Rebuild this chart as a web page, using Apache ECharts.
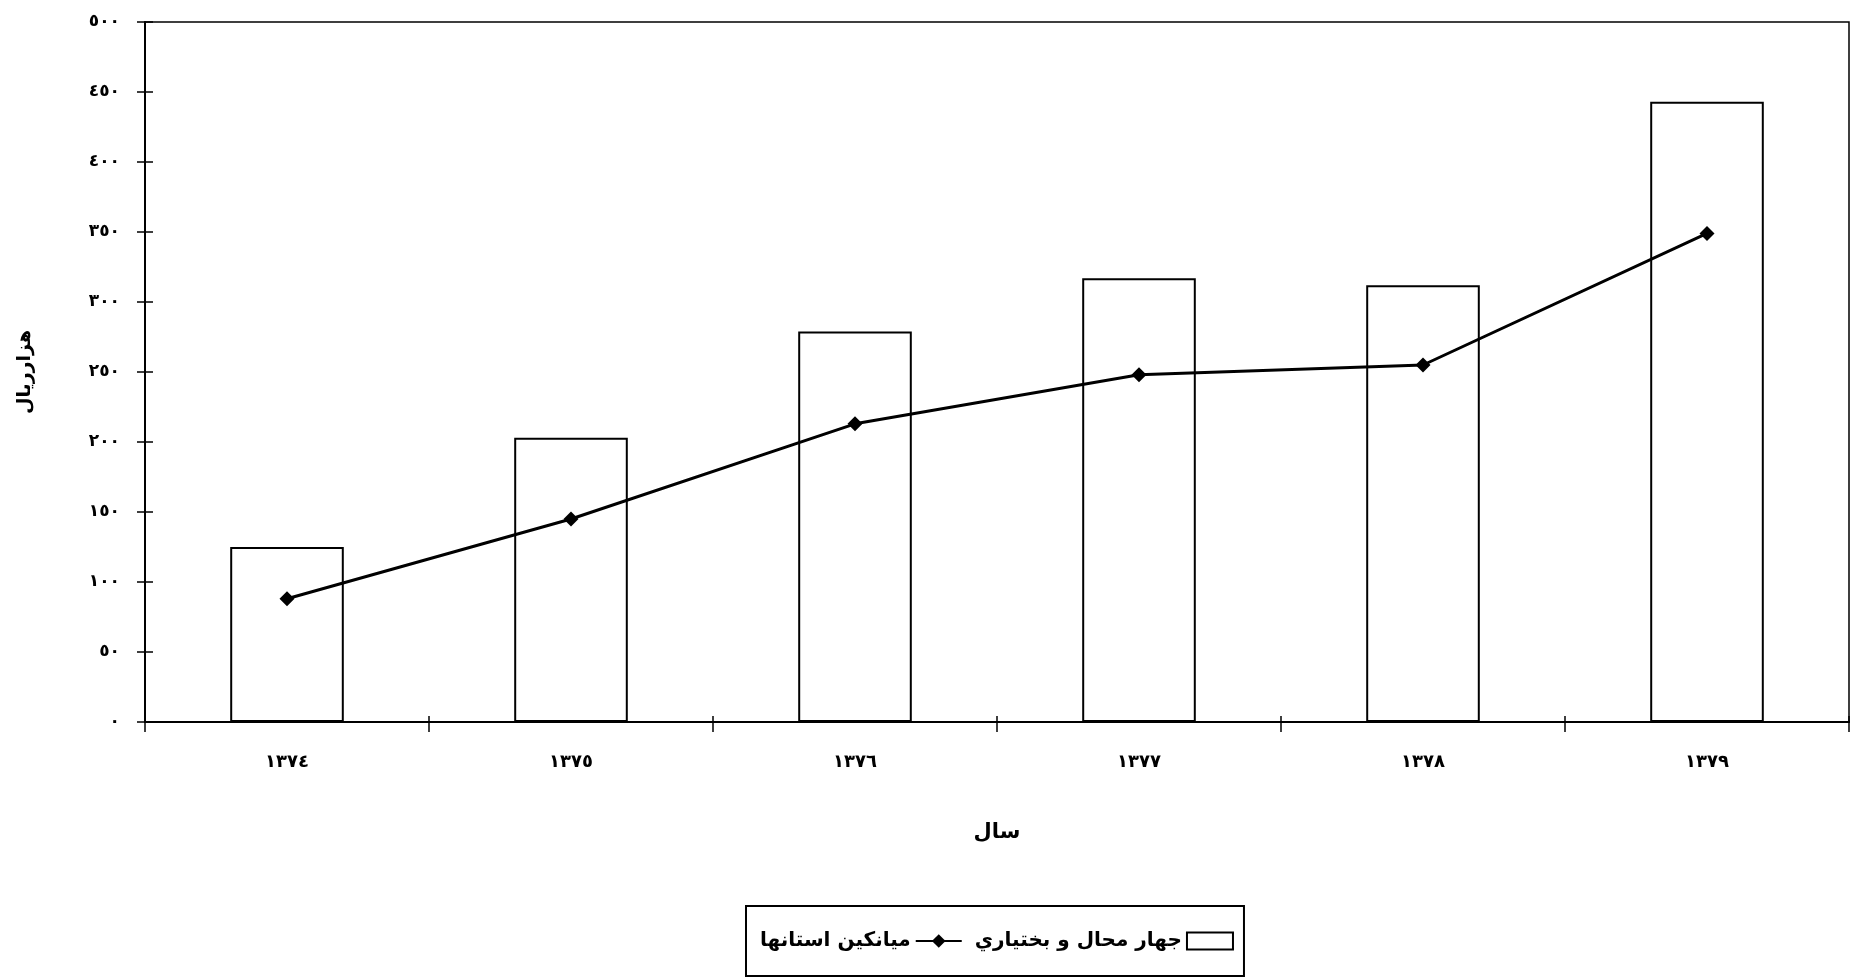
<!DOCTYPE html>
<html>
<head>
<meta charset="utf-8">
<script src="https://cdn.jsdelivr.net/npm/echarts@6/dist/echarts.min.js"></script>
<style>
html,body{margin:0;padding:0;background:#fff;}
#chart{width:1852px;height:979px;}
</style>
</head>
<body>
<div id="chart"></div>
<script>
var categories = ['١٣٧٤', '١٣٧٥', '١٣٧٦', '١٣٧٧', '١٣٧٨', '١٣٧٩'];
var provinceValues = [125, 203, 279, 317, 312, 443];
var averageValues = [88, 145, 213, 248, 255, 349];
var yTickLabels = ['٠', '٥٠', '١٠٠', '١٥٠', '٢٠٠', '٢٥٠', '٣٠٠', '٣٥٠', '٤٠٠', '٤٥٠', '٥٠٠'];
var barName = 'جهار محال و بختياري';
var lineName = 'میانکین استانها';
var yAxisName = 'هزارریال';
var xAxisName = 'سال';

var FONT = 'DejaVu Sans';
var chart = echarts.init(document.getElementById('chart'));
chart.setOption({
  backgroundColor: '#fff',
  animation: false,
  grid: {left: 145, right: 3, top: 22, bottom: 257, show: true, borderColor: '#000', borderWidth: 1.5, backgroundColor: '#fff'},
  legend: {
    left: 746, top: 906,
    data: [{name: lineName}, {name: barName, icon: 'rect'}],
    align: 'right',
    itemWidth: 46, itemHeight: 17, itemGap: 12,
    padding: [25, 10, 25, 14],
    borderColor: '#000', borderWidth: 2,
    textStyle: {fontFamily: FONT, fontWeight: 'bold', fontSize: 20, color: '#000'}
  },
  xAxis: [{
    type: 'category', data: categories, position: 'bottom',
    name: xAxisName, nameLocation: 'middle', nameGap: 100,
    nameTextStyle: {fontFamily: FONT, fontWeight: 'bold', fontSize: 21, color: '#000'},
    axisLine: {lineStyle: {color: '#000', width: 2}},
    axisTick: {show: true, length: 10, lineStyle: {color: '#000', width: 1.5}},
    axisLabel: {margin: 31, fontFamily: FONT, fontWeight: 'bold', fontSize: 18, color: '#000'}
  }, {
    type: 'category', data: categories, position: 'bottom',
    axisLine: {show: false},
    axisTick: {show: true, inside: true, length: 6, lineStyle: {color: '#000', width: 1.5}},
    axisLabel: {show: false}
  }],
  yAxis: [{
    type: 'value', min: 0, max: 500, interval: 50, position: 'left',
    name: yAxisName, nameLocation: 'middle', nameRotate: 90, nameGap: 110,
    nameTextStyle: {fontFamily: FONT, fontWeight: 'bold', fontSize: 19, color: '#000'},
    axisLine: {show: true, lineStyle: {color: '#000', width: 2}},
    axisTick: {show: true, length: 8, lineStyle: {color: '#000', width: 1.5}},
    splitLine: {show: false},
    axisLabel: {margin: 25, fontFamily: FONT, fontWeight: 'bold', fontSize: 17, color: '#000',
      formatter: function (v) { return yTickLabels[Math.round(v / 50)]; }}
  }, {
    type: 'value', min: 0, max: 500, interval: 50, position: 'left',
    axisLine: {show: false},
    axisTick: {show: true, inside: true, length: 8, lineStyle: {color: '#000', width: 1.5}},
    splitLine: {show: false},
    axisLabel: {show: false}
  }],
  series: [{
    name: barName, type: 'bar', data: provinceValues, barWidth: '40%',
    itemStyle: {color: '#fff', borderColor: '#000', borderWidth: 2}
  }, {
    name: lineName, type: 'line', data: averageValues,
    symbol: 'diamond', symbolSize: 15,
    lineStyle: {color: '#000', width: 3},
    itemStyle: {color: '#000'}
  }]
});
</script>
</body>
</html>
